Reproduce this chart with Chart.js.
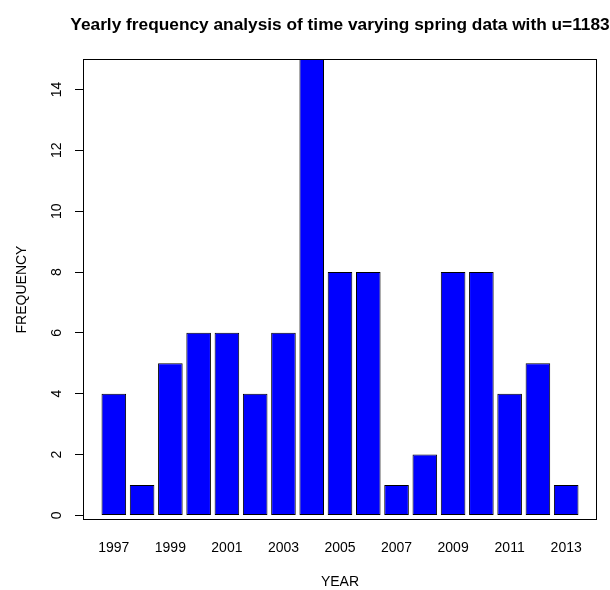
<!DOCTYPE html>
<html>
<head>
<meta charset="utf-8">
<script src="https://cdn.jsdelivr.net/npm/chart.js@4.4.1/dist/chart.umd.min.js"></script>
<style>
  html, body { margin: 0; padding: 0; background: #fff; }
  #wrap { width: 610px; height: 590px; }
</style>
</head>
<body>
<div id="wrap"><canvas id="c" width="610" height="590"></canvas></div>
<script>
// Yearly counts of spring events above the threshold u=1183
const years = [1997, 1998, 1999, 2000, 2001, 2002, 2003, 2004, 2005,
               2006, 2007, 2008, 2009, 2010, 2011, 2012, 2013];
const frequency = [4, 1, 5, 6, 6, 4, 6, 15, 8, 8, 1, 2, 8, 8, 4, 5, 1];
const yTickValues = [0, 2, 4, 6, 8, 10, 12, 14];
const yTickLabels = ['0', '2', '4', '6', '8', '10', '12', '14'];
const xTickLabels = ['1997', '1999', '2001', '2003', '2005', '2007', '2009', '2011', '2013'];
const titleText = 'Yearly frequency analysis of time varying spring data with u=1183';

// barplot-style layout: unit-width bars separated by 0.2 gaps
const barWidth = 1, barSpace = 0.2;
const centers = years.map((_, i) => barSpace + i * (barWidth + barSpace) + barWidth / 2);
const left = barSpace, right = years.length * (barWidth + barSpace);
const ext = (right - left) * 0.04;
const xTickPositions = centers.filter((_, i) => i % 2 === 0);

const FONT = "'Liberation Sans', Arial, Helvetica, sans-serif";
Chart.defaults.color = '#000';
Chart.defaults.font.family = FONT;

// frame around the plot region, rotated y tick labels and a title centred over the plot
const boxAndLabels = {
  id: 'boxAndLabels',
  afterDraw(chart) {
    const { ctx, chartArea: a, scales } = chart;
    ctx.save();
    ctx.strokeStyle = '#000';
    ctx.lineWidth = 1;
    ctx.strokeRect(a.left + 0.5, a.top + 0.5, a.right - a.left - 1, a.bottom - a.top - 1);
    ctx.fillStyle = '#000';
    ctx.font = '14px ' + FONT;
    ctx.textAlign = 'center';
    ctx.textBaseline = 'middle';
    yTickValues.forEach((v, i) => {
      const y = scales.y.getPixelForValue(v);
      ctx.save();
      ctx.translate(57, y);
      ctx.rotate(-Math.PI / 2);
      ctx.fillText(yTickLabels[i], 0, 0);
      ctx.restore();
    });
    ctx.font = 'bold 17.3px ' + FONT;
    ctx.textBaseline = 'alphabetic';
    ctx.fillText(titleText, (a.left + a.right) / 2, 30);
    ctx.restore();
  }
};

new Chart(document.getElementById('c'), {
  type: 'bar',
  data: {
    datasets: [{
      data: centers.map((x, i) => ({ x: x, y: frequency[i] })),
      backgroundColor: '#0000ff',
      borderColor: '#000',
      borderWidth: 1,
      borderSkipped: false,
      barPercentage: 0.87,
      categoryPercentage: 1
    }]
  },
  options: {
    responsive: false,
    animation: false,
    events: [],
    layout: { padding: { left: 0, right: 13, top: 59, bottom: 0 } },
    plugins: {
      legend: { display: false },
      tooltip: { enabled: false },
      title: { display: false }
    },
    scales: {
      x: {
        type: 'linear',
        min: left - ext,
        max: right + ext,
        offset: false,
        grid: { display: false, drawTicks: false, offset: false },
        border: { display: false },
        afterBuildTicks(scale) {
          scale.ticks = xTickPositions.map(v => ({ value: v }));
        },
        afterFit(scale) { scale.height = 70; },
        ticks: {
          autoSkip: false,
          maxRotation: 0,
          minRotation: 0,
          padding: 20,
          font: { size: 14, family: FONT },
          callback: (v, i) => xTickLabels[i]
        },
        title: {
          display: true,
          text: 'YEAR',
          font: { size: 14, family: FONT },
          padding: { top: 0, bottom: -1 }
        }
      },
      y: {
        min: -0.15,
        max: 15,
        afterBuildTicks(scale) {
          scale.ticks = yTickValues.map(v => ({ value: v }));
        },
        afterFit(scale) { scale.width = 83; },
        grid: { drawOnChartArea: false, drawTicks: true, tickLength: 8, color: '#000' },
        border: { display: false },
        ticks: { display: false },
        title: {
          display: true,
          text: 'FREQUENCY',
          font: { size: 14, family: FONT },
          padding: { top: 14, bottom: 0 }
        }
      }
    }
  },
  plugins: [boxAndLabels]
});
</script>
</body>
</html>
